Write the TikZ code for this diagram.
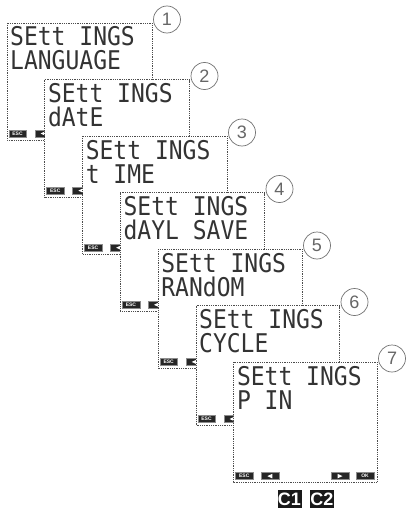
\documentclass[tikz,border=0pt]{standalone}
\usepackage{fontspec}
\setmainfont{Liberation Sans}
\newfontfamily\lcdfont{DejaVu Sans Mono}
\begin{document}
\begin{tikzpicture}[x=1pt,y=-1pt,
  screen/.style={draw=black!70, densely dotted, line width=0.8pt, fill=white},
  lcd/.style={anchor=base west, inner sep=0pt, text=black!80,
    font=\lcdfont\fontsize{23}{23}\selectfont},
  btn/.style={fill=black!85, draw=black!45, line width=0.3pt, minimum width=17.5pt,
    minimum height=7pt, inner sep=0pt, text=white,
    font=\fontsize{5}{5}\selectfont\bfseries},
  numcirc/.style={circle, draw=black!55, line width=0.7pt, minimum size=27pt,
    inner sep=0pt, fill=white, text=black!60, font=\fontsize{18}{18}\selectfont},
  cbox/.style={fill=black!90, text=white, font=\bfseries\fontsize{18}{18}\selectfont,
    minimum width=24pt, minimum height=18.5pt, inner sep=0pt}]
\useasboundingbox (0,0) rectangle (406,511);
\foreach \i/\txt [count=\n] in {0/LANGUAGE, 1/dAtE, 2/t IME, 3/dAYL SAVE, 4/RANdOM, 5/CYCLE, 6/P IN}{
  \pgfmathsetmacro{\l}{7+37.8*\i}
  \pgfmathsetmacro{\r}{152+37.5*\i}
  \pgfmathsetmacro{\t}{23+56.5*\i}
  \pgfmathsetmacro{\b}{140+57.1*\i}
  \path[screen] (\l,\t) rectangle (\r,\b);
  \node[lcd] (a\n) at (\l+3,\t+23) {\scalebox{1}[1.12]{SEtt INGS}};
  \node[lcd] (b\n) at (\l+3,\t+47) {\scalebox{1}[1.12]{\txt}};
  \node[btn] (esc\n) at (\l+10.5,\b-6.5) {ESC};
  \node[btn] (lf\n) at (\l+36.5,\b-6.5) {};
  \fill[white] (\l+33.5,\b-6.5) -- (\l+38.5,\b-8.8) -- (\l+38.5,\b-4.2) -- cycle;
  \ifnum\n=7
    \node[btn] (rt\n) at (\r-37,\b-6.5) {};
    \fill[white] (\r-34.5,\b-6.5) -- (\r-39.5,\b-8.8) -- (\r-39.5,\b-4.2) -- cycle;
    \node[btn] (ok\n) at (\r-12,\b-6.5) {OK};
  \fi
  \node[numcirc] (n\n) at (\r+15,\t-3.5) {\n};
}
\node[cbox] (c1) at (289.5,499) {C1};
\node[cbox] (c2) at (322,499) {C2};
\end{tikzpicture}
\end{document}
